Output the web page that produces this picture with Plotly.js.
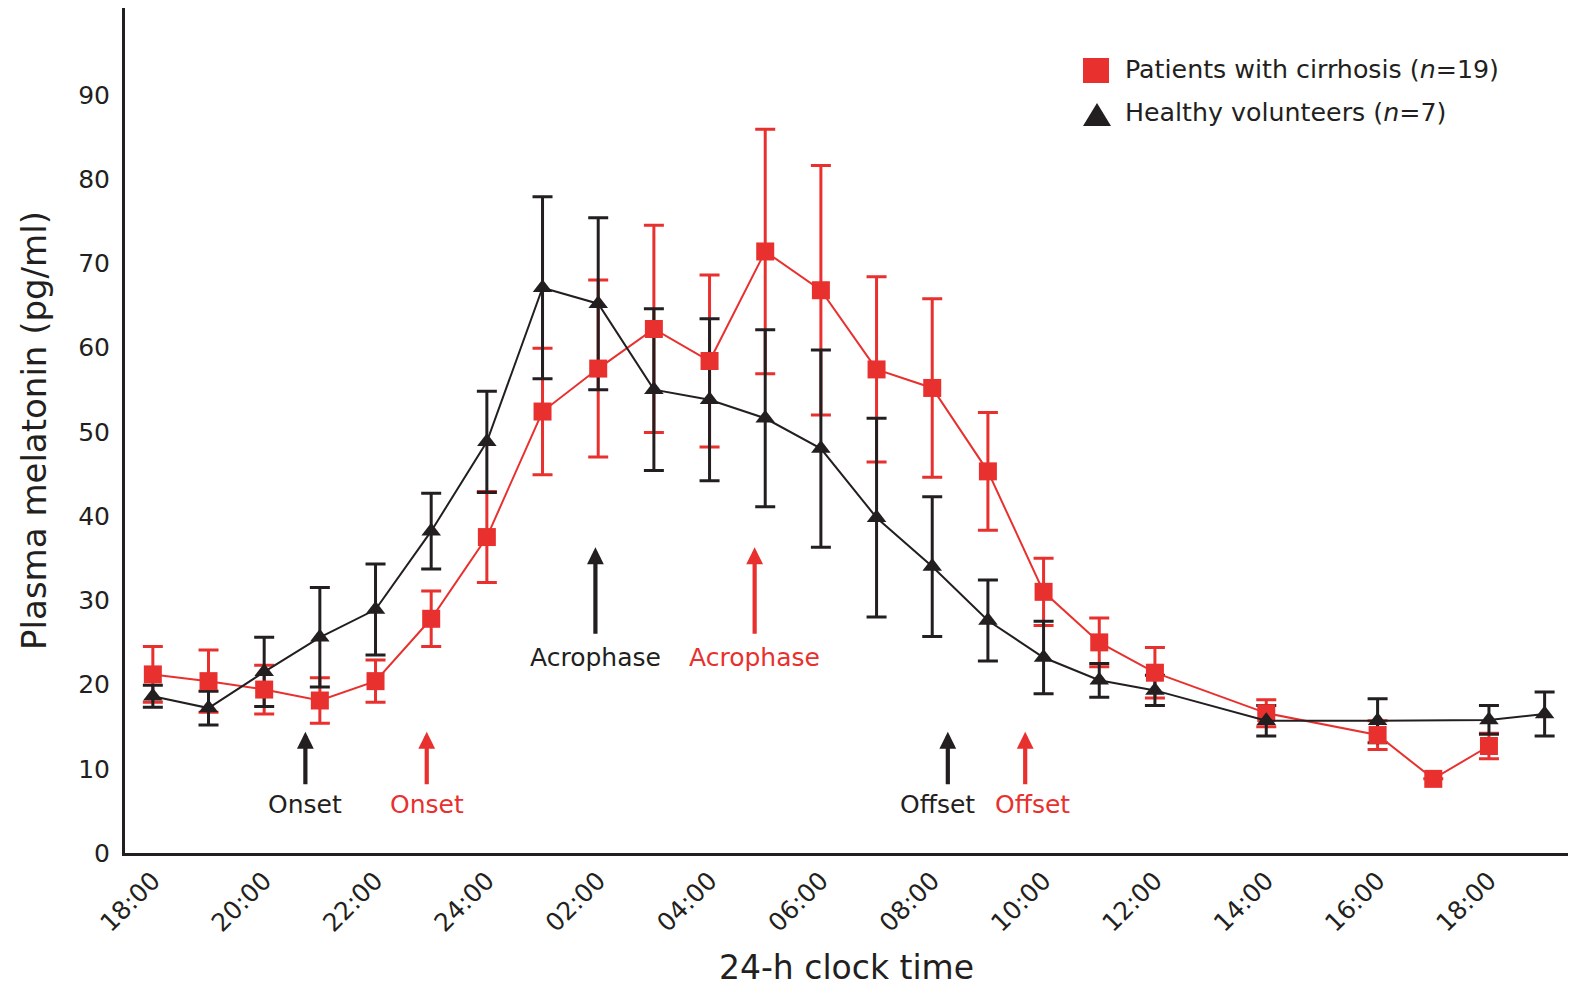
<!DOCTYPE html>
<html>
<head>
<meta charset="utf-8">
<script src="https://cdn.plot.ly/plotly-3.0.1.min.js"></script>
<style>
  html, body { margin: 0; padding: 0; background: #ffffff; }
  #chart { width: 1572px; height: 987px; }
</style>
</head>
<body>
<div id="chart"></div>
<script>
// Sampling times are hours after 18:00 on the first evening.
const cirrhosisHours = [0, 1, 2, 3, 4, 5, 6, 7, 8, 9, 10, 11, 12, 13, 14, 15, 16, 17, 18, 20, 22, 23, 24];
const cirrhosisMelatonin = [21.2, 20.4, 19.4, 18.1, 20.4, 27.8, 37.5, 52.4, 57.5, 62.2, 58.4, 71.4, 66.8, 57.4, 55.2, 45.3, 31.0, 25.0, 21.4, 16.6, 14.0, 8.8, 12.7];
const cirrhosisSEM = [3.3, 3.7, 2.9, 2.7, 2.5, 3.3, 5.4, 7.5, 10.5, 12.3, 10.2, 14.5, 14.8, 11.0, 10.6, 7.0, 4.0, 2.9, 3.0, 1.6, 1.7, 0, 1.5];

const healthyHours = [0, 1, 2, 3, 4, 5, 6, 7, 8, 9, 10, 11, 12, 13, 14, 15, 16, 17, 18, 20, 22, 24, 25];
const healthyMelatonin = [18.6, 17.2, 21.5, 25.6, 28.9, 38.2, 48.8, 67.1, 65.2, 55.0, 53.8, 51.6, 48.0, 39.8, 34.0, 27.6, 23.2, 20.5, 19.3, 15.7, 15.7, 15.8, 16.5];
const healthySEM = [1.3, 2.0, 4.1, 5.9, 5.4, 4.5, 6.0, 10.8, 10.2, 9.6, 9.6, 10.5, 11.7, 11.8, 8.3, 4.8, 4.3, 2.0, 1.8, 1.8, 2.6, 1.7, 2.6];

const tickHours = [0, 2, 4, 6, 8, 10, 12, 14, 16, 18, 20, 22, 24];
const tickLabels = ['18:00', '20:00', '22:00', '24:00', '02:00', '04:00', '06:00', '08:00', '10:00', '12:00', '14:00', '16:00', '18:00'];
const yTicks = [0, 10, 20, 30, 40, 50, 60, 70, 80, 90];

// Circadian phase markers (hours after 18:00)
const phaseNames = ['Onset', 'Acrophase', 'Offset'];
const healthyPhaseHours = [2.74, 7.95, 14.28];
const cirrhosisPhaseHours = [4.92, 10.81, 15.67];

const seriesNames = ['Patients with cirrhosis (<i>n</i>=19)', 'Healthy volunteers (<i>n</i>=7)'];

// ---- styling ----
const RED = '#E8312F';
const BLACK = '#231F20';
const FONT = 'DejaVu Sans, Liberation Sans, Arial, sans-serif';

const W = 1572, H = 987;
const M = { l: 125, r: 4, t: 8, b: 134 };
const PW = W - M.l - M.r, PH = H - M.t - M.b;
const px = x => (x - M.l) / PW;
const py = y => (H - M.b - y) / PH;

function errorTrace(hours, values, sem, color) {
  return {
    x: hours, y: values, type: 'scatter', mode: 'markers',
    marker: { size: 1, color: 'rgba(0,0,0,0)' },
    error_y: { type: 'data', array: sem, visible: true, color: color, thickness: 3, width: 10 },
    hoverinfo: 'skip', showlegend: false
  };
}

function seriesTrace(hours, values, color, symbol, size, name) {
  return {
    x: hours, y: values, type: 'scatter', mode: 'lines+markers', name: name,
    line: { color: color, width: 2 },
    marker: { color: color, symbol: symbol, size: size, line: { width: 0 } },
    showlegend: false
  };
}

const data = [
  errorTrace(cirrhosisHours, cirrhosisMelatonin, cirrhosisSEM, RED),
  errorTrace(healthyHours, healthyMelatonin, healthySEM, BLACK),
  seriesTrace(cirrhosisHours, cirrhosisMelatonin, RED, 'square', 18, seriesNames[0]),
  seriesTrace(healthyHours, healthyMelatonin, BLACK, 'triangle-up', 17, seriesNames[1])
];

// Arrow tip height, arrow length (px) and label height for each phase
const phaseArrowTip = { Onset: 14.38, Acrophase: 36.28, Offset: 14.38 };
const phaseArrowLen = { Onset: 54, Acrophase: 88, Offset: 54 };
const phaseLabelY = { Onset: 5.8, Acrophase: 23.2, Offset: 5.8 };
const labelShift = {
  black: { Onset: 0, Acrophase: 0, Offset: -10 },
  red: { Onset: 0, Acrophase: 0, Offset: 7 }
};

const annotations = [];
function addPhase(name, hour, color, key) {
  annotations.push({
    x: hour, y: phaseArrowTip[name], xref: 'x', yref: 'y',
    ax: 0, ay: phaseArrowLen[name], text: '', showarrow: true,
    arrowhead: 2, arrowsize: 0.8, arrowwidth: 4.2, arrowcolor: color, standoff: 0
  });
  annotations.push({
    x: hour, y: phaseLabelY[name], xref: 'x', yref: 'y', xshift: labelShift[key][name],
    text: name, showarrow: false, xanchor: 'center', yanchor: 'middle',
    font: { family: FONT, size: 25, color: color }
  });
}
phaseNames.forEach((n, i) => {
  addPhase(n, healthyPhaseHours[i], BLACK, 'black');
  addPhase(n, cirrhosisPhaseHours[i], RED, 'red');
});

// Legend entries
annotations.push({
  x: px(1123), y: py(70), xref: 'paper', yref: 'paper', xanchor: 'left', yanchor: 'middle',
  text: seriesNames[0], showarrow: false, font: { family: FONT, size: 25.3, color: BLACK }
});
annotations.push({
  x: px(1123), y: py(113), xref: 'paper', yref: 'paper', xanchor: 'left', yanchor: 'middle',
  text: seriesNames[1], showarrow: false, font: { family: FONT, size: 25.3, color: BLACK }
});

const shapes = [
  {
    type: 'rect', xref: 'paper', yref: 'paper',
    x0: px(1083), x1: px(1109), y0: py(83), y1: py(58),
    fillcolor: RED, line: { width: 0 }
  },
  {
    type: 'path', xref: 'paper', yref: 'paper',
    path: 'M ' + px(1083) + ',' + py(126) + ' L ' + px(1111) + ',' + py(126) + ' L ' + px(1097) + ',' + py(103) + ' Z',
    fillcolor: BLACK, line: { width: 0 }
  }
];

const layout = {
  width: W, height: H,
  margin: M,
  paper_bgcolor: '#ffffff', plot_bgcolor: '#ffffff',
  font: { family: FONT, color: BLACK },
  showlegend: false,
  xaxis: {
    range: [-0.5, 25.42],
    tickvals: tickHours, ticktext: tickLabels, tickangle: -45,
    tickfont: { family: FONT, size: 25, color: BLACK },
    ticks: '', showgrid: false, zeroline: false,
    showline: true, linewidth: 3, linecolor: BLACK,
    title: { text: '24-h clock time', font: { family: FONT, size: 33, color: BLACK }, standoff: 24 }
  },
  yaxis: {
    range: [0, 100.3],
    tickvals: yTicks,
    tickfont: { family: FONT, size: 25, color: BLACK },
    ticks: '', showgrid: false, zeroline: false,
    showline: true, linewidth: 3, linecolor: BLACK,
    ticklabelstandoff: 7,
    title: { text: 'Plasma melatonin (pg/ml)', font: { family: FONT, size: 34, color: BLACK }, standoff: 22 }
  },
  annotations: annotations,
  shapes: shapes
};

Plotly.newPlot('chart', data, layout, { displayModeBar: false, staticPlot: true });
</script>
</body>
</html>
